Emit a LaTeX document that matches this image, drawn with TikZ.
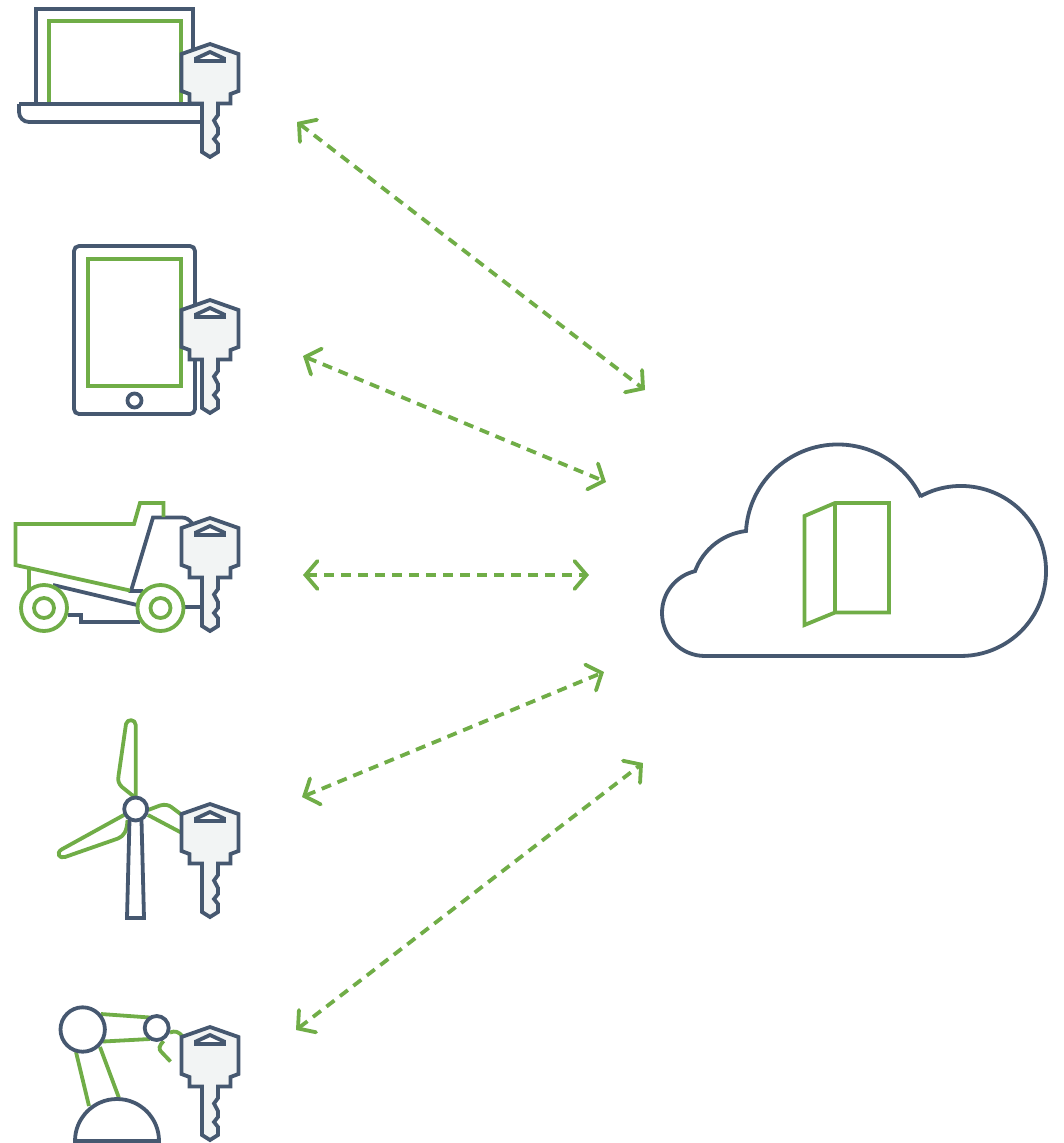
\documentclass[tikz,border=0pt]{standalone}
\usetikzlibrary{arrows.meta}
\definecolor{slateline}{HTML}{465870}
\definecolor{leafgreen}{HTML}{70AD47}
\definecolor{keyfill}{HTML}{F2F4F4}

\tikzset{
    keyicon/.pic={
        \draw[slate, fill=keyfill] (0,2) -- (28.5,12) -- (28.5,49) -- (20.5,52) -- (20.5,61.5) -- (8,61.5)
            -- (8,73) -- (4,78.5) -- (8,86) -- (8,92) -- (4,97) -- (8,102) -- (8,110) -- (0,115) -- (-8,110)
            -- (-8,61.5) -- (-20.5,61.5) -- (-20.5,52) -- (-28.5,49) -- (-28.5,12) -- cycle;
        \draw[slate, fill=white] (-14,19) -- (14,19) -- (14,16.5) -- (0,10) -- (-14,16.5) -- cycle;
    }
}

\begin{document}
\begin{tikzpicture}[
    x=1pt, y=1pt, yscale=-1,
    slate/.style={draw=slateline, line width=3.8pt, miter limit=10},
    leaf/.style={draw=leafgreen, line width=3.8pt},
    link/.style={draw=leafgreen, line width=3.8pt, dash pattern=on 10pt off 7pt,
        {Straight Barb[length=12pt, width=28pt, line cap=round, sep=0pt]}-{Straight Barb[length=12pt, width=28pt, line cap=round]}},
]
\useasboundingbox (0,0) rectangle (1063,1143);

% Laptop
\draw[leaf] (49,103) -- (49,21) -- (181,21) -- (181,103);
\draw[slate] (36,103) -- (36,9) -- (193,9) -- (193,50);
\draw[slate] (19,104) -- (203,104);
\draw[slate] (19,104) -- (19,112) arc[start angle=180, end angle=90, radius=10] -- (203,122);

% Tablet
\draw[slate, rounded corners=5pt] (74,246) rectangle (195,414);
\draw[leaf] (88,259) rectangle (181,386);
\draw[slate] (134.5,400.5) circle (7);

% Dump truck
\draw[leaf] (29,567) -- (29,590);
\draw[slate] (53,585) -- (137,605);
\draw[slate] (68,615) -- (81,615) -- (81,622) -- (140,622);
\draw[slate] (185,607) -- (203,607);
\draw[slate] (143,591) -- (131,591) -- (153,517.5) -- (182,517.5) .. controls (186,517.5) and (189,519.5) .. (192,523);
\draw[leaf] (163.5,517) -- (163.5,503) -- (140,503) -- (134,524) -- (15.5,524) -- (15.5,565) -- (130,590.5);
\foreach \cx/\nm in {44/wheela, 160.5/wheelb} {
    \draw[leaf, fill=white] (\cx,608) circle (23);
    \draw[leaf] (\cx,608) circle (10);
}

% Wind turbine
\draw[leaf, line join=round] (135.7,798) -- (135.7,725) .. controls (135.7,719) and (127,718.5) .. (126,724)
    -- (118.5,776) .. controls (117.5,781) and (119,784) .. (122,787) -- (135.7,798);
\draw[leaf, line join=round] (124,815) -- (61.5,849.5) .. controls (56,853) and (59,859) .. (65,857)
    -- (118,838.5) .. controls (124,836) and (127,831) .. (127.5,820);
\draw[leaf] (148,810) -- (160,805.5) .. controls (165,804) and (169,805) .. (172,807.5) -- (182,815);
\draw[leaf] (148,815) -- (182,833);
\draw[slate, fill=white] (129.5,820) -- (127,918) -- (144,918) -- (141.5,820);
\draw[slate, fill=white] (135.7,809) circle (11.5);

% Robot arm
\draw[leaf] (101,1014) -- (150,1017.5);
\draw[leaf] (103,1041.5) -- (150,1039);
\draw[leaf] (76,1052) -- (89,1106);
\draw[leaf] (100,1047) -- (119,1098);
\draw[leaf] (163.5,1041) .. controls (159,1046) and (158.5,1049) .. (161,1051.5) -- (170.5,1061.5);
\draw[leaf] (170,1032.5) .. controls (175,1030.5) and (179,1031.5) .. (183,1037);
\draw[slate, fill=white] (82.7,1029.5) circle (22.2);
\draw[slate, fill=white] (156.7,1028) circle (12);
\draw[slate] (75,1141) arc[start angle=180, end angle=360, radius=42] -- cycle;

% Keys
\foreach \ky/\nm in {42/laptop, 298/tablet, 516/truck, 802/turbine, 1025/robot} {
    \pic[transform shape] (key\nm) at (210,\ky) {keyicon};
}

% Cloud with door
\draw[slate, line join=miter] (705,656) arc[start angle=90, end angle=256.6, radius=43]
    arc[start angle=200.2, end angle=263.3, radius=62]
    arc[start angle=183.4, end angle=334.6, radius=92]
    -- (920.6,496.2) arc[start angle=241.6, end angle=450, radius=85] -- cycle;
\draw[leaf] (804.5,516) -- (835,503) -- (889,503) -- (889,612.5) -- (835,612.5) -- (804.5,625) -- cycle;
\draw[leaf] (835,503) -- (835,612.5);

% Links
\coordinate (la) at (297,122);
\coordinate (lb) at (303,356);
\coordinate (lc) at (303,575);
\coordinate (ld) at (302,797);
\coordinate (le) at (296,1030);
\coordinate (ca) at (645,390);
\coordinate (cb) at (606,482);
\coordinate (cc) at (589,575);
\coordinate (cd) at (604,672);
\coordinate (ce) at (643,763);
\foreach \a/\b in {la/ca, lb/cb, lc/cc, ld/cd, le/ce} {
    \draw[link] (\a) -- (\b);
}

\end{tikzpicture}
\end{document}
